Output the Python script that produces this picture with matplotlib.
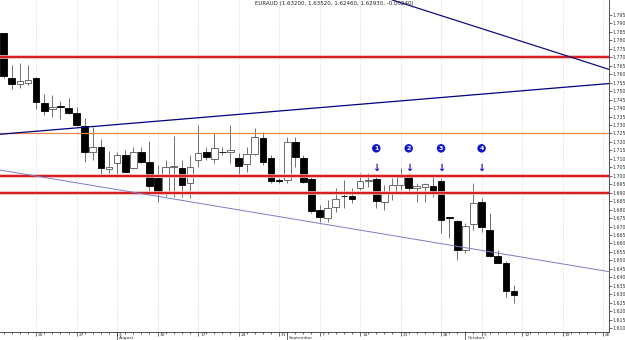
import matplotlib.pyplot as plt
import numpy as np
import pandas as pd

symbol = "EURAUD"
dates = pd.bdate_range("2015-07-14", "2015-10-09")
opens = [1.7842, 1.7576, 1.7542, 1.7550, 1.7579, 1.7432, 1.7393, 1.7410, 1.7402, 1.7369,
         1.7294, 1.7139, 1.7172, 1.7040, 1.7074, 1.7123, 1.7044, 1.7142, 1.7083, 1.6988,
         1.6906, 1.7049, 1.7044, 1.6959, 1.7093, 1.7142, 1.7097, 1.7142, 1.7139, 1.7103,
         1.7068, 1.7129, 1.7221, 1.7103, 1.6975, 1.6975, 1.7198, 1.7103, 1.6979, 1.6798,
         1.6749, 1.6814, 1.6880, 1.6880, 1.6926, 1.6969, 1.6979, 1.6847, 1.6896, 1.6945,
         1.7004, 1.6926, 1.6935, 1.6939, 1.6969, 1.6756, 1.6734, 1.6561, 1.6715, 1.6843,
         1.6679, 1.6526, 1.6482, 1.6320]
highs = [1.7845, 1.7655, 1.7665, 1.7655, 1.7583, 1.7483, 1.7477, 1.7444, 1.7458, 1.7405,
         1.7340, 1.7286, 1.7215, 1.7146, 1.7142, 1.7152, 1.7172, 1.7172, 1.7207, 1.7064,
         1.7093, 1.7235, 1.7093, 1.7123, 1.7300, 1.7172, 1.7251, 1.7172, 1.7300, 1.7133,
         1.7172, 1.7282, 1.7260, 1.7123, 1.6987, 1.7231, 1.7231, 1.7123, 1.6994, 1.6827,
         1.6857, 1.6928, 1.6975, 1.6928, 1.7014, 1.7016, 1.6994, 1.6945, 1.6985, 1.7044,
         1.7014, 1.6955, 1.6959, 1.6994, 1.6985, 1.6758, 1.6738, 1.6719, 1.6955, 1.6867,
         1.6778, 1.6561, 1.6498, 1.63520]
lows = [1.7578, 1.7513, 1.7520, 1.7536, 1.7393, 1.7359, 1.7349, 1.7335, 1.7366, 1.7294,
        1.7083, 1.7093, 1.7009, 1.7018, 1.6994, 1.7022, 1.7040, 1.7074, 1.6906, 1.6847,
        1.6880, 1.6876, 1.6876, 1.6867, 1.7053, 1.7093, 1.7074, 1.7123, 1.7074, 1.7004,
        1.7024, 1.7125, 1.7064, 1.6955, 1.6957, 1.6955, 1.7053, 1.6955, 1.6778, 1.6728,
        1.6728, 1.6788, 1.6808, 1.6837, 1.6916, 1.6935, 1.6808, 1.6798, 1.6857, 1.6916,
        1.6892, 1.6847, 1.6847, 1.6876, 1.6662, 1.6630, 1.6502, 1.6542, 1.6679, 1.6669,
        1.6522, 1.6482, 1.6285, 1.62460]
closes = [1.7591, 1.7542, 1.7560, 1.7566, 1.7438, 1.7384, 1.7408, 1.7409, 1.7369, 1.7300,
          1.7139, 1.7172, 1.7048, 1.7053, 1.7123, 1.7024, 1.7142, 1.7083, 1.6939, 1.6900,
          1.7050, 1.7058, 1.6945, 1.7050, 1.7133, 1.7109, 1.7162, 1.7140, 1.7152, 1.7058,
          1.7129, 1.7229, 1.7083, 1.6971, 1.6969, 1.7201, 1.7109, 1.6965, 1.6793, 1.6754,
          1.6811, 1.6863, 1.6879, 1.6863, 1.6971, 1.6975, 1.6853, 1.6896, 1.6945, 1.6993,
          1.6926, 1.6941, 1.6949, 1.6912, 1.6740, 1.6748, 1.6561, 1.6703, 1.6837, 1.6695,
          1.6526, 1.6486, 1.6317, 1.62930]

red_levels = [1.770, 1.700, 1.690]
orange_levels = [1.725]
trend_up = [("2015-07-14", 1.7247), ("2015-10-26", 1.7542)]
trend_down = [("2015-09-21", 1.8023), ("2015-10-26", 1.7640)]
trend_low = [("2015-07-14", 1.7030), ("2015-10-26", 1.6439)]
signal_dates = ["2015-09-16", "2015-09-22", "2015-09-28", "2015-10-05"]
signal_labels = ["1", "2", "3", "4"]
month_labels = ["August", "September", "October"]

# axis calendar runs past the last candle (empty space on the right)
calendar = pd.bdate_range("2015-07-14", "2015-10-26")
pos = {d.strftime("%Y-%m-%d"): i for i, d in enumerate(calendar)}

fig = plt.figure(figsize=(6.25, 3.4), dpi=100)
ax = fig.add_axes([0, 8 / 340, 609 / 625, 332 / 340])

mondays = [i for i, d in enumerate(calendar) if d.weekday() == 0]
for m in mondays:
    ax.axvline(m, color="#c8c8c8", lw=0.6, ls=(0, (1, 2)), zorder=0)

x = np.arange(len(dates))
o, h, l, c = (np.array(v) for v in (opens, highs, lows, closes))
rising = c >= o
ax.vlines(x, l, h, color="#707070", lw=0.7, zorder=2)
ax.bar(x[rising], (c - o)[rising], bottom=o[rising], width=0.82,
       color="white", edgecolor="#555555", lw=0.6, zorder=3)
ax.bar(x[~rising], (o - c)[~rising], bottom=c[~rising], width=0.82,
       color="black", edgecolor="black", lw=0.6, zorder=3)

for lvl in red_levels:
    ax.axhline(lvl, color="#f4b4b4", lw=2.6, zorder=4)
    ax.axhline(lvl, color="#d40000", lw=1.2, zorder=5)
for lvl in orange_levels:
    ax.axhline(lvl, color="#f08a4b", lw=0.9, zorder=4)

for line, col, lw in [(trend_up, "#000080", 0.9), (trend_down, "#10107a", 0.9),
                      (trend_low, "#7c7cc8", 0.7)]:
    (d1, p1), (d2, p2) = line
    ax.axline((pos[d1], p1), (pos[d2], p2), color=col, lw=lw, zorder=5)

for d, lab in zip(signal_dates, signal_labels):
    xi = pos[d]
    ax.text(xi, 1.7162, lab, color="white", fontsize=4.5, fontweight="bold",
            ha="center", va="center", zorder=7,
            bbox=dict(boxstyle="circle,pad=0.28", fc="#1414c8", ec="none"))
    ax.text(xi, 1.7045, "\u2193", color="#1414c8", fontsize=7, fontweight="bold",
            ha="center", va="center", zorder=7)

title = "{} ({:.5f}, {:.5f}, {:.5f}, {:.5f}, {:.5f})".format(
    symbol, opens[-1], highs[-1], lows[-1], closes[-1], closes[-1] - closes[-2])
ax.text(0.419, 0.997, title, transform=ax.transAxes, ha="left", va="top",
        fontsize=4, color="#222222")

# right price axis
ax.yaxis.tick_right()
yt = np.round(np.arange(1.610, 1.7951, 0.005), 3)
ax.set_yticks(yt, [f"{v:.3f}" for v in yt])
ax.tick_params(axis="y", labelsize=3.4, length=2, width=0.5, pad=0.8, colors="#333333")

# bottom date axis
ax.set_xticks(mondays, [""] * len(mondays))
ax.set_xticks(range(len(calendar)), minor=True)
ax.tick_params(axis="x", which="major", length=3, width=0.5, color="#333333")
ax.tick_params(axis="x", which="minor", length=1.5, width=0.5, color="#333333")

# limits after the ticks so the tick lists don't widen them
ax.set_xlim(-0.457, 74.73)
ax.set_ylim(1.60765, 1.80387)

xt = ax.get_xaxis_transform()
for m in mondays:
    ax.text(m + 0.25, -0.002, str(calendar[m].day), transform=xt, fontsize=3.2,
            ha="left", va="top", color="#333333", clip_on=False)
month_starts = [i for i in range(1, len(calendar))
                if calendar[i].month != calendar[i - 1].month]
for i, name in zip(month_starts, month_labels):
    ax.plot([i, i], [0, -0.024], transform=xt, color="#333333", lw=0.5, clip_on=False)
    ax.text(i + 0.25, -0.0125, name, transform=xt, fontsize=3.2,
            ha="left", va="top", color="#333333", clip_on=False)

for side in ("left", "top"):
    ax.spines[side].set_visible(False)
for side in ("right", "bottom"):
    ax.spines[side].set_linewidth(0.6)
    ax.spines[side].set_color("#333333")

fig.savefig("out.png", dpi=100)
